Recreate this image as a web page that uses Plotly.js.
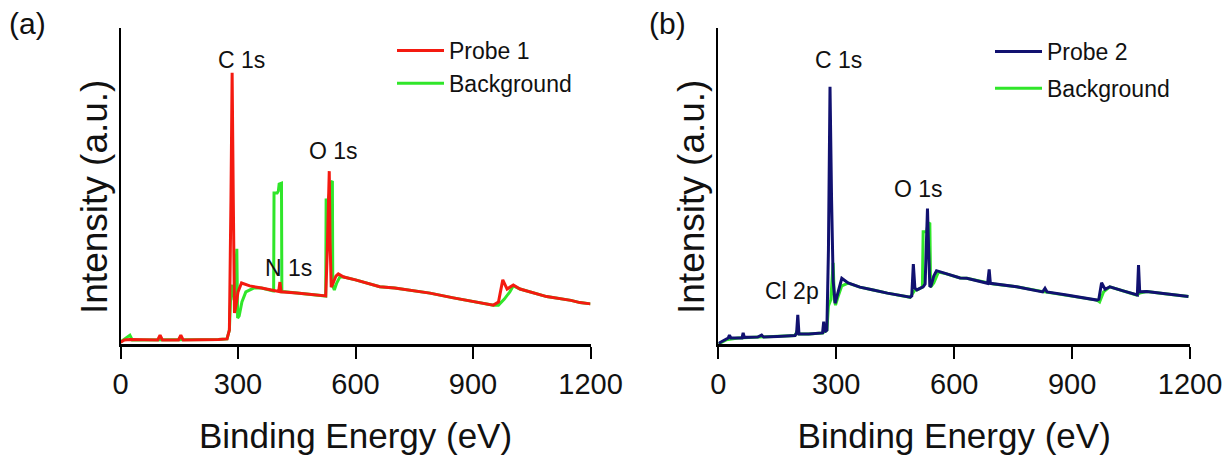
<!DOCTYPE html>
<html>
<head>
<meta charset="utf-8">
<script src="https://cdn.plot.ly/plotly-3.0.1.min.js"></script>
<style>html,body{margin:0;padding:0;background:#fff;}#chart{width:1226px;height:461px;}</style>
</head>
<body>
<div id="chart"></div>
<script>
// ---- Panel (a): Probe 1 ----
const probe1E = [0,10,24,50,95,101,107,148,154,160,200,250,272,278,282,285,288,291,295,300,309,330,360,400,404,407,410,450,500,524,528,530,533,535,538,543,550,556,570,600,662,700,790,850,918,952,965,976,987,1003,1020,1088,1150,1173,1200];
const probe1I = [0.6,1.3,1.4,1.3,1.3,2.8,1.3,1.3,2.8,1.3,1.3,1.4,1.6,4.4,45.6,85.8,45.6,9.8,12.3,16.5,19.3,18.4,17.7,16.8,16.6,19.6,16.5,16.1,15.5,15.2,29.7,45.6,54.7,32.9,18.0,19.3,21.5,22.2,21.2,20.3,18.1,17.7,16.1,14.6,13.0,12.3,13.3,20.3,17.4,18.7,17.4,15.0,13.8,13.1,12.7];

const bg1E = [0,15,24,30,60,100,150,200,250,272,278,282,286,290,294,297,299,303,310,320,340,360,390,391,392,400,403,405,411,412,420,450,500,522,524,525,530,533,537,541,542,546,552,560,570,600,662,700,790,850,918,952,965,980,994,1003,1020,1088,1150,1173,1200];
const bg1I = [0.6,1.9,2.8,1.3,1.3,1.3,1.3,1.3,1.4,1.6,4.4,17.1,18.7,13.9,23.4,30.1,8.2,8.9,13.3,16.5,17.7,17.7,16.8,16.8,47.8,47.8,48.4,50.6,50.9,16.5,16.5,16.1,15.5,15.2,15.2,45.6,45.6,47.2,50.9,51.6,18.4,17.1,19.3,21.2,21.2,20.3,18.1,17.7,16.1,14.6,13.0,12.3,12.3,14.2,16.5,18.4,17.4,15.0,13.8,13.1,12.7];

// ---- Panel (b): Probe 2 ----
const probe2E = [0,10,25,28,32,60,63,66,100,110,115,150,195,199,202,205,230,265,268,271,276,280,284,288,292,297,305,314,330,360,394,430,488,492,496,500,505,515,521,526,529,532,535,538,541,548,555,580,615,632,685,689,692,759,825,831,836,886,930,963,968,975,984,996,1030,1064,1066,1069,1072,1090,1130,1160,1196];
const probe2I = [0.2,0.9,1.9,2.8,1.9,1.9,3.5,2.1,2.2,2.8,2.2,2.4,2.7,3.5,9.2,3.2,3.2,3.5,7.1,3.8,4.4,29.7,81.4,45.6,20.0,12.9,17.1,20.8,19.3,18.0,17.1,16.1,14.8,15.2,25.3,17.7,17.1,17.7,18.1,19.0,29.7,42.9,29.7,18.1,18.4,21.5,23.2,22.2,20.9,20.8,19.2,23.6,19.2,18.1,16.5,17.6,16.5,15.5,14.6,13.9,14.2,19.4,17.3,18.1,16.8,15.5,15.5,25.0,16.5,16.6,16.0,15.5,15.0];

const bg2E = [0,20,50,100,150,195,200,205,230,265,276,280,286,292,295,298,305,314,330,360,394,430,488,500,505,515,519,521,530,533,538,540,548,560,580,615,632,700,759,830,886,930,963,970,980,996,1030,1064,1072,1090,1130,1160,1196];
const bg2I = [0,1.3,1.9,2.2,2.4,2.7,4.0,3.2,3.2,3.5,4.4,12.0,14.0,25.7,14.0,12.3,15.2,18.4,19.3,18.0,17.1,16.1,14.8,17.1,17.1,17.7,18.0,35.5,35.5,37.9,38.4,18.0,19.3,22.8,22.2,20.9,20.8,19.0,18.1,16.5,15.5,14.6,13.9,13.3,16.5,18.1,16.8,15.5,16.1,16.6,16.0,15.5,15.0];

const xTicks = [0,300,600,900,1200];
const peakLabelsA = [{t:"C 1s", e:308, i:89.9},{t:"O 1s", e:543, i:61.1},{t:"N 1s", e:428, i:24.1}];
const peakLabelsB = [{t:"C 1s", e:306, i:89.8},{t:"O 1s", e:509, i:49.1},{t:"Cl 2p", e:186, i:16.8}];

const RED = "#f41a10", GREEN = "#30e62a", NAVY = "#111170";
const FONT = "Liberation Sans, Arial, sans-serif";
const W = 1226, H = 461;
const px = v => v / W, py = v => (H - v) / H;

const traces = [
  {x: bg1E, y: bg1I, type: "scatter", mode: "lines", name: "Background", line: {color: GREEN, width: 3}, xaxis: "x", yaxis: "y", legend: "legend", legendrank: 2, legendgroup: "a2"},
  {x: probe1E, y: probe1I, type: "scatter", mode: "lines", name: "Probe 1", line: {color: RED, width: 3}, xaxis: "x", yaxis: "y", legend: "legend", legendrank: 1, legendgroup: "a1"},
  {x: bg2E, y: bg2I, type: "scatter", mode: "lines", name: "Background", line: {color: GREEN, width: 3}, xaxis: "x2", yaxis: "y2", legend: "legend2", legendrank: 2, legendgroup: "b2"},
  {x: probe2E, y: probe2I, type: "scatter", mode: "lines", name: "Probe 2", line: {color: NAVY, width: 3}, xaxis: "x2", yaxis: "y2", legend: "legend2", legendrank: 1, legendgroup: "b1"}
];

const yDom = [py(344), py(28)];
function xAx(dom, anchor) {
  return {domain: dom, anchor: anchor, range: [0, 1200], tickvals: xTicks, ticktext: xTicks.map(String),
    showline: true, linecolor: "#000", linewidth: 3, ticks: "outside", ticklen: 12, tickwidth: 2, tickcolor: "#000",
    showgrid: false, zeroline: false, tickfont: {size: 29, color: "#111", family: FONT},
    title: {text: "Binding Energy (eV)", font: {size: 35, color: "#111", family: FONT}, standoff: 25}, fixedrange: true};
}
function yAx(anchor) {
  return {domain: yDom, anchor: anchor, range: [0, 100], showline: true, linecolor: "#000", linewidth: 2,
    showticklabels: false, ticks: "", showgrid: false, zeroline: false, fixedrange: true};
}

const annotations = [];
peakLabelsA.forEach(p => annotations.push({x: p.e, y: p.i, xref: "x", yref: "y", text: p.t, showarrow: false, font: {size: 23, color: "#111", family: FONT}}));
peakLabelsB.forEach(p => annotations.push({x: p.e, y: p.i, xref: "x2", yref: "y2", text: p.t, showarrow: false, font: {size: 23, color: "#111", family: FONT}}));
annotations.push({x: px(27), y: py(23), xref: "paper", yref: "paper", xanchor: "center", yanchor: "middle", text: "(a)", showarrow: false, font: {size: 30, color: "#111", family: FONT}});
annotations.push({x: px(667), y: py(23), xref: "paper", yref: "paper", xanchor: "center", yanchor: "middle", text: "(b)", showarrow: false, font: {size: 30, color: "#111", family: FONT}});
// y-axis titles (rotated text)
[[95, "(a)"], [692, "(b)"]].forEach(([cx]) => annotations.push({x: px(cx), y: py(197), xref: "paper", yref: "paper",
  xanchor: "center", yanchor: "middle", textangle: -90, text: "Intensity (a.u.)", showarrow: false,
  font: {size: 37, color: "#111", family: FONT}}));

const legendBase = {xanchor: "left", yanchor: "top", bgcolor: "rgba(0,0,0,0)", borderwidth: 0, itemwidth: 47,
  font: {size: 23, color: "#111", family: FONT}, traceorder: "grouped"};

const layout = {
  width: W, height: H, margin: {l: 0, r: 0, t: 0, b: 0}, paper_bgcolor: "#fff", plot_bgcolor: "#fff",
  font: {family: FONT, color: "#111"},
  xaxis: xAx([px(120.5), px(590.5)], "y"),
  yaxis: yAx("x"),
  xaxis2: xAx([px(718.4), px(1190)], "y2"),
  yaxis2: yAx("x2"),
  showlegend: true,
  legend: Object.assign({}, legendBase, {x: px(392), y: py(29), tracegroupgap: 0}),
  legend2: Object.assign({}, legendBase, {x: px(990), y: py(30), tracegroupgap: 4}),
  annotations: annotations
};

Plotly.newPlot("chart", traces, layout, {displayModeBar: false, staticPlot: true});
</script>
</body>
</html>
